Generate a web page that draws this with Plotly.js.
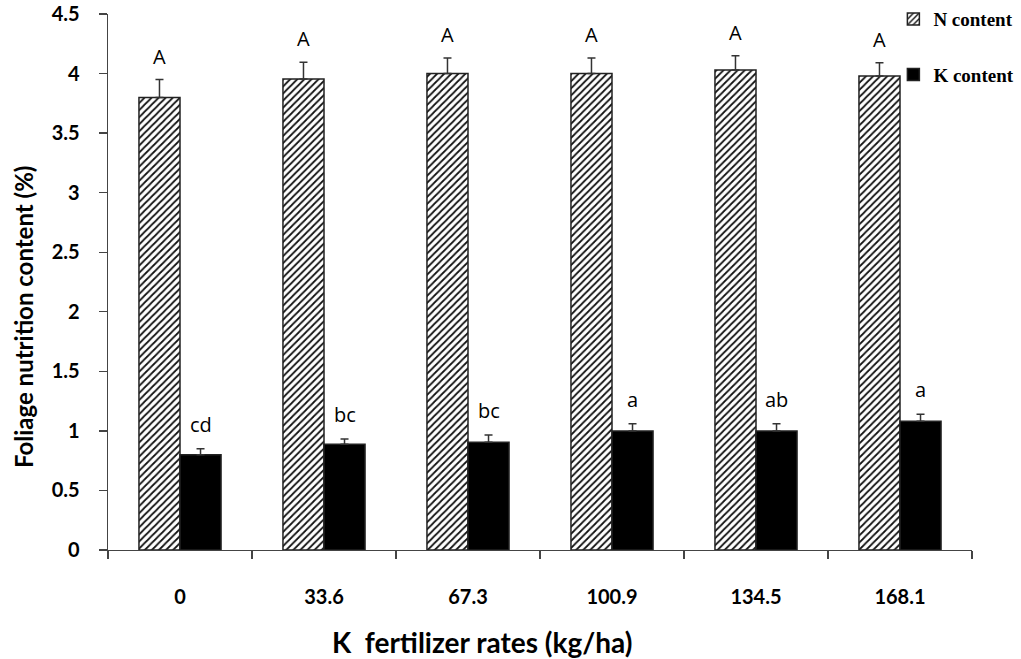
<!DOCTYPE html>
<html>
<head>
<meta charset="utf-8">
<script src="https://cdn.plot.ly/plotly-3.0.1.min.js"></script>
<style>html,body{margin:0;padding:0;background:#fff;}#chart{width:1021px;height:659px;}</style>
</head>
<body>
<div id="chart"></div>
<script>
const categories = ["0", "33.6", "67.3", "100.9", "134.5", "168.1"];
const nContent = [3.80, 3.955, 4.00, 4.00, 4.03, 3.98];
const nError = [0.15, 0.14, 0.13, 0.13, 0.12, 0.11];
const kContent = [0.80, 0.887, 0.905, 1.00, 1.00, 1.08];
const kError = [0.05, 0.045, 0.06, 0.06, 0.06, 0.06];
const nLetters = ["A", "A", "A", "A", "A", "A"];
const kLetters = ["cd", "bc", "bc", "a", "ab", "a"];
const yTicks = [0, 0.5, 1, 1.5, 2, 2.5, 3, 3.5, 4, 4.5];

const tickFont = {family: "Lato, 'Open Sans', sans-serif", size: 20, color: "#000", weight: 700};
const letterFont = {family: "'Open Sans', Lato, sans-serif", size: 20, color: "#000"};

const traces = [
  {
    type: "bar", name: "N content", x: categories, y: nContent,
    legendgroup: "n",
    marker: {color: "#fff", line: {color: "#222", width: 1.5},
      pattern: {shape: "/", size: 5, solidity: 0.35, fgcolor: "#111", bgcolor: "#fff"}},
    error_y: {type: "data", array: nError, arrayminus: nError.map(() => 0), symmetric: false,
      color: "#333", thickness: 1.5, width: 4}
  },
  {
    type: "bar", name: "K content", x: categories, y: kContent,
    legendgroup: "k",
    marker: {color: "#000", line: {color: "#222", width: 1.5}},
    error_y: {type: "data", array: kError, arrayminus: kError.map(() => 0), symmetric: false,
      color: "#333", thickness: 1.5, width: 4}
  }
];

const annotations = [];
categories.forEach((c, i) => {
  annotations.push({x: i, y: nContent[i] + nError[i], xref: "x", yref: "y", text: nLetters[i],
    showarrow: false, xshift: -20.5, yshift: 8, yanchor: "bottom", font: letterFont});
  annotations.push({x: i, y: kContent[i] + kError[i], xref: "x", yref: "y", text: kLetters[i],
    showarrow: false, xshift: 20.5, yshift: 9, yanchor: "bottom", font: letterFont});
});
annotations.push({xref: "paper", yref: "paper", x: 0.434, y: -0.172, yanchor: "middle", xanchor: "center",
  text: "K\u00a0 fertilizer rates (kg/ha)", showarrow: false,
  font: {family: "Lato, 'Open Sans', sans-serif", size: 28, color: "#000", weight: 700}});
annotations.push({xref: "paper", yref: "paper", x: -0.097, y: 0.435, xanchor: "center", yanchor: "middle",
  text: "Foliage nutrition content (%)", showarrow: false, textangle: -90,
  font: {family: "Lato, 'Open Sans', sans-serif", size: 24, color: "#000", weight: 700}});

const layout = {
  width: 1021, height: 659,
  margin: {l: 108, r: 49, t: 14, b: 109, autoexpand: false},
  paper_bgcolor: "#fff", plot_bgcolor: "#fff",
  barmode: "group", bargap: 0.43, bargroupgap: 0,
  showlegend: true,
  legend: {x: 0.909, xanchor: "left", y: 1.026, yanchor: "top", traceorder: "grouped",
    tracegroupgap: 28, itemwidth: 30, bgcolor: "rgba(0,0,0,0)",
    font: {family: "'Liberation Serif', 'Times New Roman', serif", size: 19, color: "#000", weight: 700}},
  xaxis: {type: "category", range: [-0.5, 5.5], autorange: false, tickson: "boundaries", ticks: "outside", ticklen: 8, tickwidth: 1.3,
    tickcolor: "#444", showline: true, linecolor: "#444", linewidth: 1.3, showgrid: false,
    tickfont: tickFont, ticklabelstandoff: 29, zeroline: false, tickangle: 0},
  yaxis: {range: [0, 4.5], autorange: false, tickvals: yTicks, ticktext: yTicks.map(String), ticks: "outside", ticklen: 8,
    tickwidth: 1.3, tickcolor: "#444", showline: true, linecolor: "#444", linewidth: 1.3,
    showgrid: false, zeroline: false, tickfont: tickFont, ticklabelstandoff: 15},
  annotations: annotations
};

Plotly.newPlot("chart", traces, layout, {displayModeBar: false, staticPlot: true});
</script>
</body>
</html>
